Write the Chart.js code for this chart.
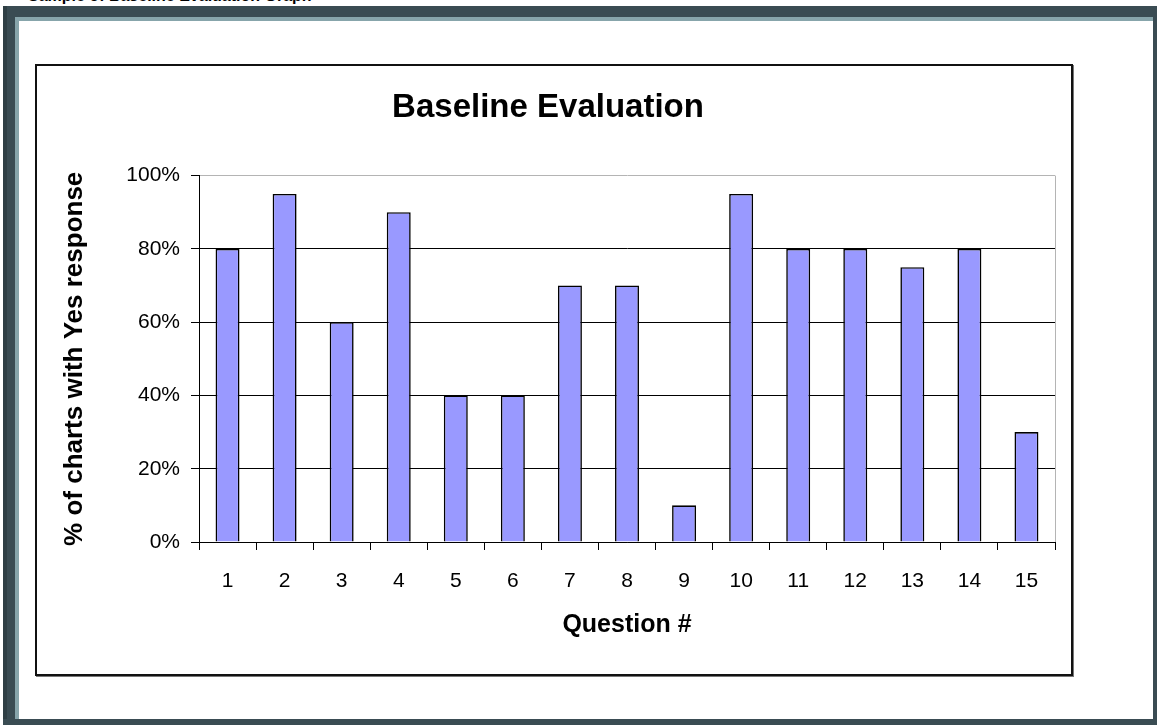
<!DOCTYPE html>
<html>
<head>
<meta charset="utf-8">
<script src="https://cdn.jsdelivr.net/npm/chart.js@4/dist/chart.umd.min.js"></script>
<style>
  html, body { margin: 0; padding: 0; background: #fff; }
  body { width: 1157px; height: 725px; position: relative; overflow: hidden; font-family: 'Liberation Sans', Arial, sans-serif; }
  .band { position: absolute; background: #3a4c53; }
  .light { position: absolute; background: #87a5ab; }
  #caption { position: absolute; left: 28px; top: -12px; font-size: 16px; font-weight: bold; line-height: 16px; color: #000; white-space: nowrap; }
  #box { position: absolute; left: 35px; top: 64px; width: 1038px; height: 612px; box-sizing: border-box; border: 2px solid #111; box-shadow: 1px 1px 0 #777; }
  #chart { display: block; }
</style>
</head>
<body>
<div id="caption">Sample of Baseline Evaluation Graph</div>
<div class="band" style="left:3px;top:6px;width:1154px;height:11px"></div>
<div class="band" style="left:3px;top:6px;width:4px;height:719px;background:#2f3f45"></div>
<div class="band" style="left:7px;top:6px;width:8px;height:719px"></div>
<div class="band" style="left:1153px;top:6px;width:4px;height:719px"></div>
<div class="band" style="left:3px;top:719px;width:1154px;height:6px"></div>
<div class="light" style="left:15px;top:17px;width:1138px;height:4px"></div>
<div class="light" style="left:15px;top:17px;width:4px;height:702px"></div>
<div id="box"><canvas id="chart" width="1034" height="608"></canvas></div>
<script>
const questions = ['1', '2', '3', '4', '5', '6', '7', '8', '9', '10', '11', '12', '13', '14', '15']
const yesPercent = [80, 95, 60, 90, 40, 40, 70, 70, 10, 95, 80, 80, 75, 80, 30]
const yTicks = [0, 20, 40, 60, 80, 100]

const font = 'Liberation Sans, Arial, sans-serif'

new Chart(document.getElementById('chart').getContext('2d'), {
  type: 'bar',
  data: {
    labels: questions,
    datasets: [{
      data: yesPercent,
      backgroundColor: '#9999ff',
      borderColor: '#000',
      borderWidth: 1.6,
      barPercentage: 0.42,
      categoryPercentage: 1.0
    }]
  },
  options: {
    responsive: false,
    animation: false,
    layout: { padding: { left: 4, right: 16 } },
    plugins: {
      legend: { display: false },
      tooltip: { enabled: false },
      title: {
        display: true,
        text: 'Baseline Evaluation',
        color: '#000',
        font: { family: font, size: 33, weight: 'bold' },
        padding: { top: 22, bottom: 48 }
      }
    },
    scales: {
      x: {
        grid: {
          offset: true,
          color: c => c.tick ? 'rgba(0,0,0,0)' : '#b4b4b4',
          tickColor: '#000',
          tickLength: 8
        },
        border: { color: '#000', width: 1 },
        ticks: { color: '#000', font: { family: font, size: 21 }, padding: 19 },
        title: {
          display: true,
          text: 'Question #',
          color: '#000',
          font: { family: font, size: 25, weight: 'bold' },
          padding: { top: 0, bottom: 34 }
        },
        afterFit: s => { s.height = 132 }
      },
      y: {
        min: 0,
        max: 100,
        afterBuildTicks: s => { s.ticks = yTicks.map(v => ({ value: v })) },
        grid: {
          color: c => c.tick && c.tick.value === 100 ? '#b4b4b4' : '#000',
          tickColor: '#000',
          tickLength: 8
        },
        border: { color: '#000', width: 1 },
        ticks: { color: '#000', font: { family: font, size: 21 }, padding: 11, callback: v => v + '%' },
        title: {
          display: true,
          text: '% of charts with Yes response',
          color: '#000',
          font: { family: font, size: 26, weight: 'bold' },
          padding: { top: 18, bottom: 0 }
        },
        afterFit: s => { s.width = 158 }
      }
    }
  }
})
</script>
</body>
</html>
